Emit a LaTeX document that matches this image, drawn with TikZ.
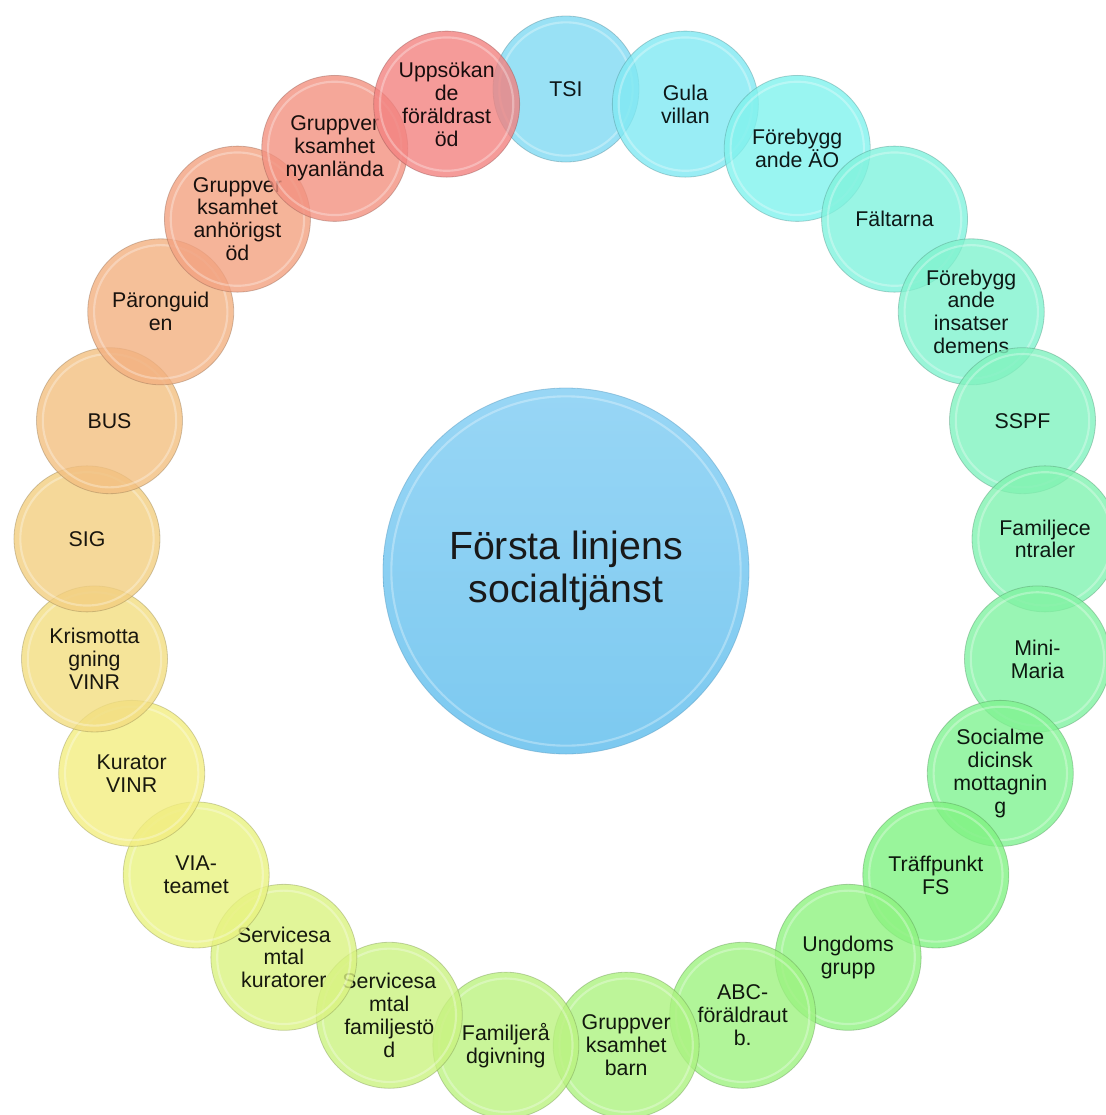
\documentclass[tikz,border=0pt]{standalone}
\usepackage{fontspec}
\setmainfont{Liberation Sans}
\tikzset{every picture/.style={line width=0.75pt}}
\tikzset{
  svcring/.style={circle, minimum size=109.5pt, inner sep=0pt, align=center,
    fill=#1, fill opacity=0.8, text opacity=1, draw=#1!60!black, draw opacity=0.4,
    line width=0.6pt, text=#1!10!black, font=\fontsize{16}{17.2}\selectfont},
  corering/.style={circle, minimum size=274.5pt, inner sep=0pt, align=center,
    top color={rgb,255:red,152;green,214;blue,245}, bottom color={rgb,255:red,124;green,201;blue,240},
    draw={rgb,255:red,96;green,160;blue,196}, draw opacity=0.5, line width=0.6pt,
    text=black!90, font=\fontsize{29.5}{32}\selectfont},
  gloss/.style={draw=white, draw opacity=0.3, line width=1.6pt},
}

\begin{document}
\begin{tikzpicture}[x=0.75pt,y=0.75pt,yscale=-1,xscale=1]
	\clip (0,0) rectangle (1106,1115);

	% Center
	\node [corering] (core) at (566,571) {Första linjens\\socialtjänst};
	\draw [gloss] (core.center) circle (131pt);

	% Ring of services, clockwise from the top
	\foreach \lbl [count=\i from 0] in {TSI, Gula\\villan, Förebygg\\ande ÄO, Fältarna,
		Förebygg\\ande\\insatser\\demens, SSPF, Familjece\\ntraler, Mini-\\Maria,
		Socialme\\dicinsk\\mottagnin\\g, Träffpunkt\\FS, Ungdoms\\grupp, ABC-\\föräldraut\\b.,
		Gruppver\\ksamhet\\barn, Familjerå\\dgivning, Servicesa\\mtal\\familjestö\\d,
		Servicesa\\mtal\\kuratorer, VIA-\\teamet, Kurator\\VINR, Krismotta\\gning\\VINR,
		SIG, BUS, Päronguid\\en, Gruppver\\ksamhet\\anhörigst\\öd,
		Gruppver\\ksamhet\\nyanlända, Uppsökan\\de\\föräldrast\\öd}
	{
		\pgfmathsetmacro\hue{193-8*\i}
		\definecolor{hsbtmp}{Hsb}{\hue,0.47,0.95}
		\colorlet{ring\i}[rgb]{hsbtmp}
		\node [svcring=ring\i] (svc\i) at ({566+480*cos(90-14.4*\i)},{569-480*sin(90-14.4*\i)}) {\lbl};
		\draw [gloss] (svc\i.center) circle (50pt);
	}

\end{tikzpicture}
\end{document}
